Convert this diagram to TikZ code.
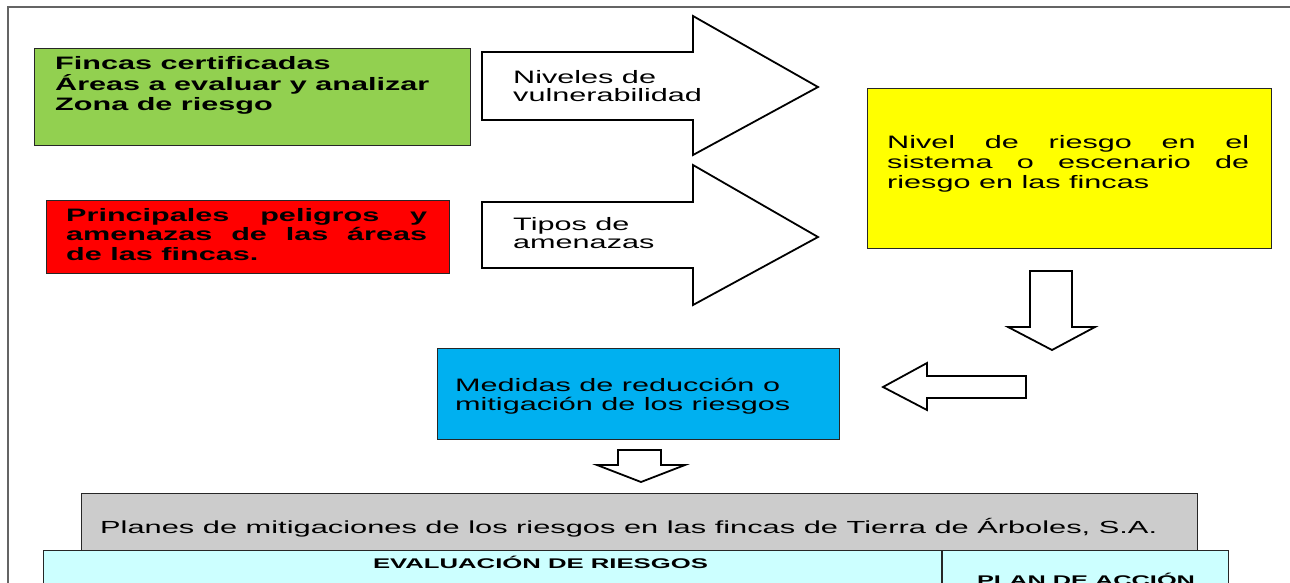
\documentclass[tikz,border=0pt]{standalone}
\usepackage{fontspec}
\usepackage{graphicx}
\setmainfont{Liberation Sans}[FakeStretch=1.7]
\definecolor{cgreen}{RGB}{146,208,80}
\definecolor{cred}{RGB}{255,0,0}
\definecolor{cyellow}{RGB}{255,255,0}
\definecolor{cblue}{RGB}{0,176,240}
\definecolor{cgray}{RGB}{204,204,204}
\definecolor{ccyan}{RGB}{204,255,255}
\definecolor{cframe}{RGB}{100,100,100}
\newcommand\Lines[1]{\begin{tabular}[t]{@{}l@{}}#1\end{tabular}}
\newcommand\Just[2]{\makebox[#1][s]{#2}}
\tikzset{
  box/.style={draw=black!85, line width=1.3pt, inner sep=0pt, anchor=north west},
  txt/.style={inner sep=0pt, anchor=base west, font=\fontsize{18}{20}\selectfont},
  blockarrow/.style={draw=black, line width=1.8pt, fill=white, line join=miter},
  hdr/.style={inner sep=0pt, anchor=base, font=\fontsize{14}{16}\selectfont\bfseries},
}
\begin{document}
\begin{tikzpicture}[x=1pt,y=-1pt]
\useasboundingbox (0,0) rectangle (1290,582);
\clip (0,0) rectangle (1290,582);
\fill[white] (0,0) rectangle (1290,582);
% frame
\draw[cframe, line width=2pt] (8,600) -- (8,7) -- (1300,7);

% green box
\node[box, fill=cgreen, minimum width=436pt, minimum height=97pt] (green) at (34,48) {};
\node[txt, font=\fontsize{18}{20}\selectfont\bfseries] (greentxt) at (55,69)
  {\Lines{Fincas certificadas\\ Áreas a evaluar y analizar\\ Zona de riesgo}};

% red box
\node[box, fill=cred, minimum width=403pt, minimum height=73pt] (red) at (46,200) {};
\node[txt, font=\fontsize{18}{19.5}\selectfont\bfseries] (redtxt) at (66,221)
  {\Lines{\Just{361pt}{Principales peligros y}\\ \Just{361pt}{amenazas de las áreas}\\ de las fincas.}};

% block arrows with text
\draw[blockarrow] (482,52) -- (693,52) -- (693,16) -- (818,87) -- (693,155) -- (693,120) -- (482,120) -- cycle;
\node[txt, font=\fontsize{18}{18.5}\selectfont] (arrowA) at (513,83) {\Lines{Niveles de\\ vulnerabilidad}};
\draw[blockarrow] (482,202) -- (693,202) -- (693,165) -- (818,237) -- (693,305) -- (693,268) -- (482,268) -- cycle;
\node[txt, font=\fontsize{18}{18.5}\selectfont] (arrowB) at (513,230) {\Lines{Tipos de\\ amenazas}};

% yellow box
\node[box, fill=cyellow, minimum width=404pt, minimum height=160pt] (yellow) at (867,88) {};
\node[txt] (yellowtxt) at (887,148)
  {\Lines{\Just{362pt}{Nivel de riesgo en el}\\ \Just{362pt}{sistema o escenario de}\\ riesgo en las fincas}};

% down arrow right
\draw[blockarrow] (1030,271) -- (1072,271) -- (1072,327) -- (1095,327) -- (1052,350) -- (1008,327) -- (1030,327) -- cycle;
% left arrow
\draw[blockarrow] (1026,376) -- (927,376) -- (927,363) -- (883,387) -- (927,410) -- (927,398) -- (1026,398) -- cycle;

% blue box
\node[box, fill=cblue, minimum width=402pt, minimum height=91pt] (blue) at (437,348) {};
\node[txt, font=\fontsize{18}{19}\selectfont] (bluetxt) at (455,391)
  {\Lines{Medidas de reducción o\\ mitigación de los riesgos}};

% small down arrow
\draw[blockarrow] (618,450) -- (661,450) -- (661,465) -- (685,465) -- (641,482) -- (597,465) -- (618,465) -- cycle;

% table
\node[box, fill=ccyan, minimum width=1185pt, minimum height=60pt] (table) at (43,550) {};
\draw[draw=black!85, line width=1.3pt] (942,550) -- (942,620);
\node[hdr] (evalhdr) at (540.5,568) {\resizebox{335pt}{\height}{EVALUACIÓN DE RIESGOS}};
\node[hdr] (planhdr) at (1086,585) {\resizebox{218pt}{\height}{PLAN DE ACCIÓN}};

% gray box
\node[box, fill=cgray, minimum width=1116pt, minimum height=57pt] (grey) at (81,493) {};
\node[txt, font=\fontsize{17.5}{20}\selectfont] (greytxt) at (100,533)
  {\resizebox{1057pt}{\height}{Planes de mitigaciones de los riesgos en las fincas de Tierra de Árboles, S.A.}};
\end{tikzpicture}
\end{document}
